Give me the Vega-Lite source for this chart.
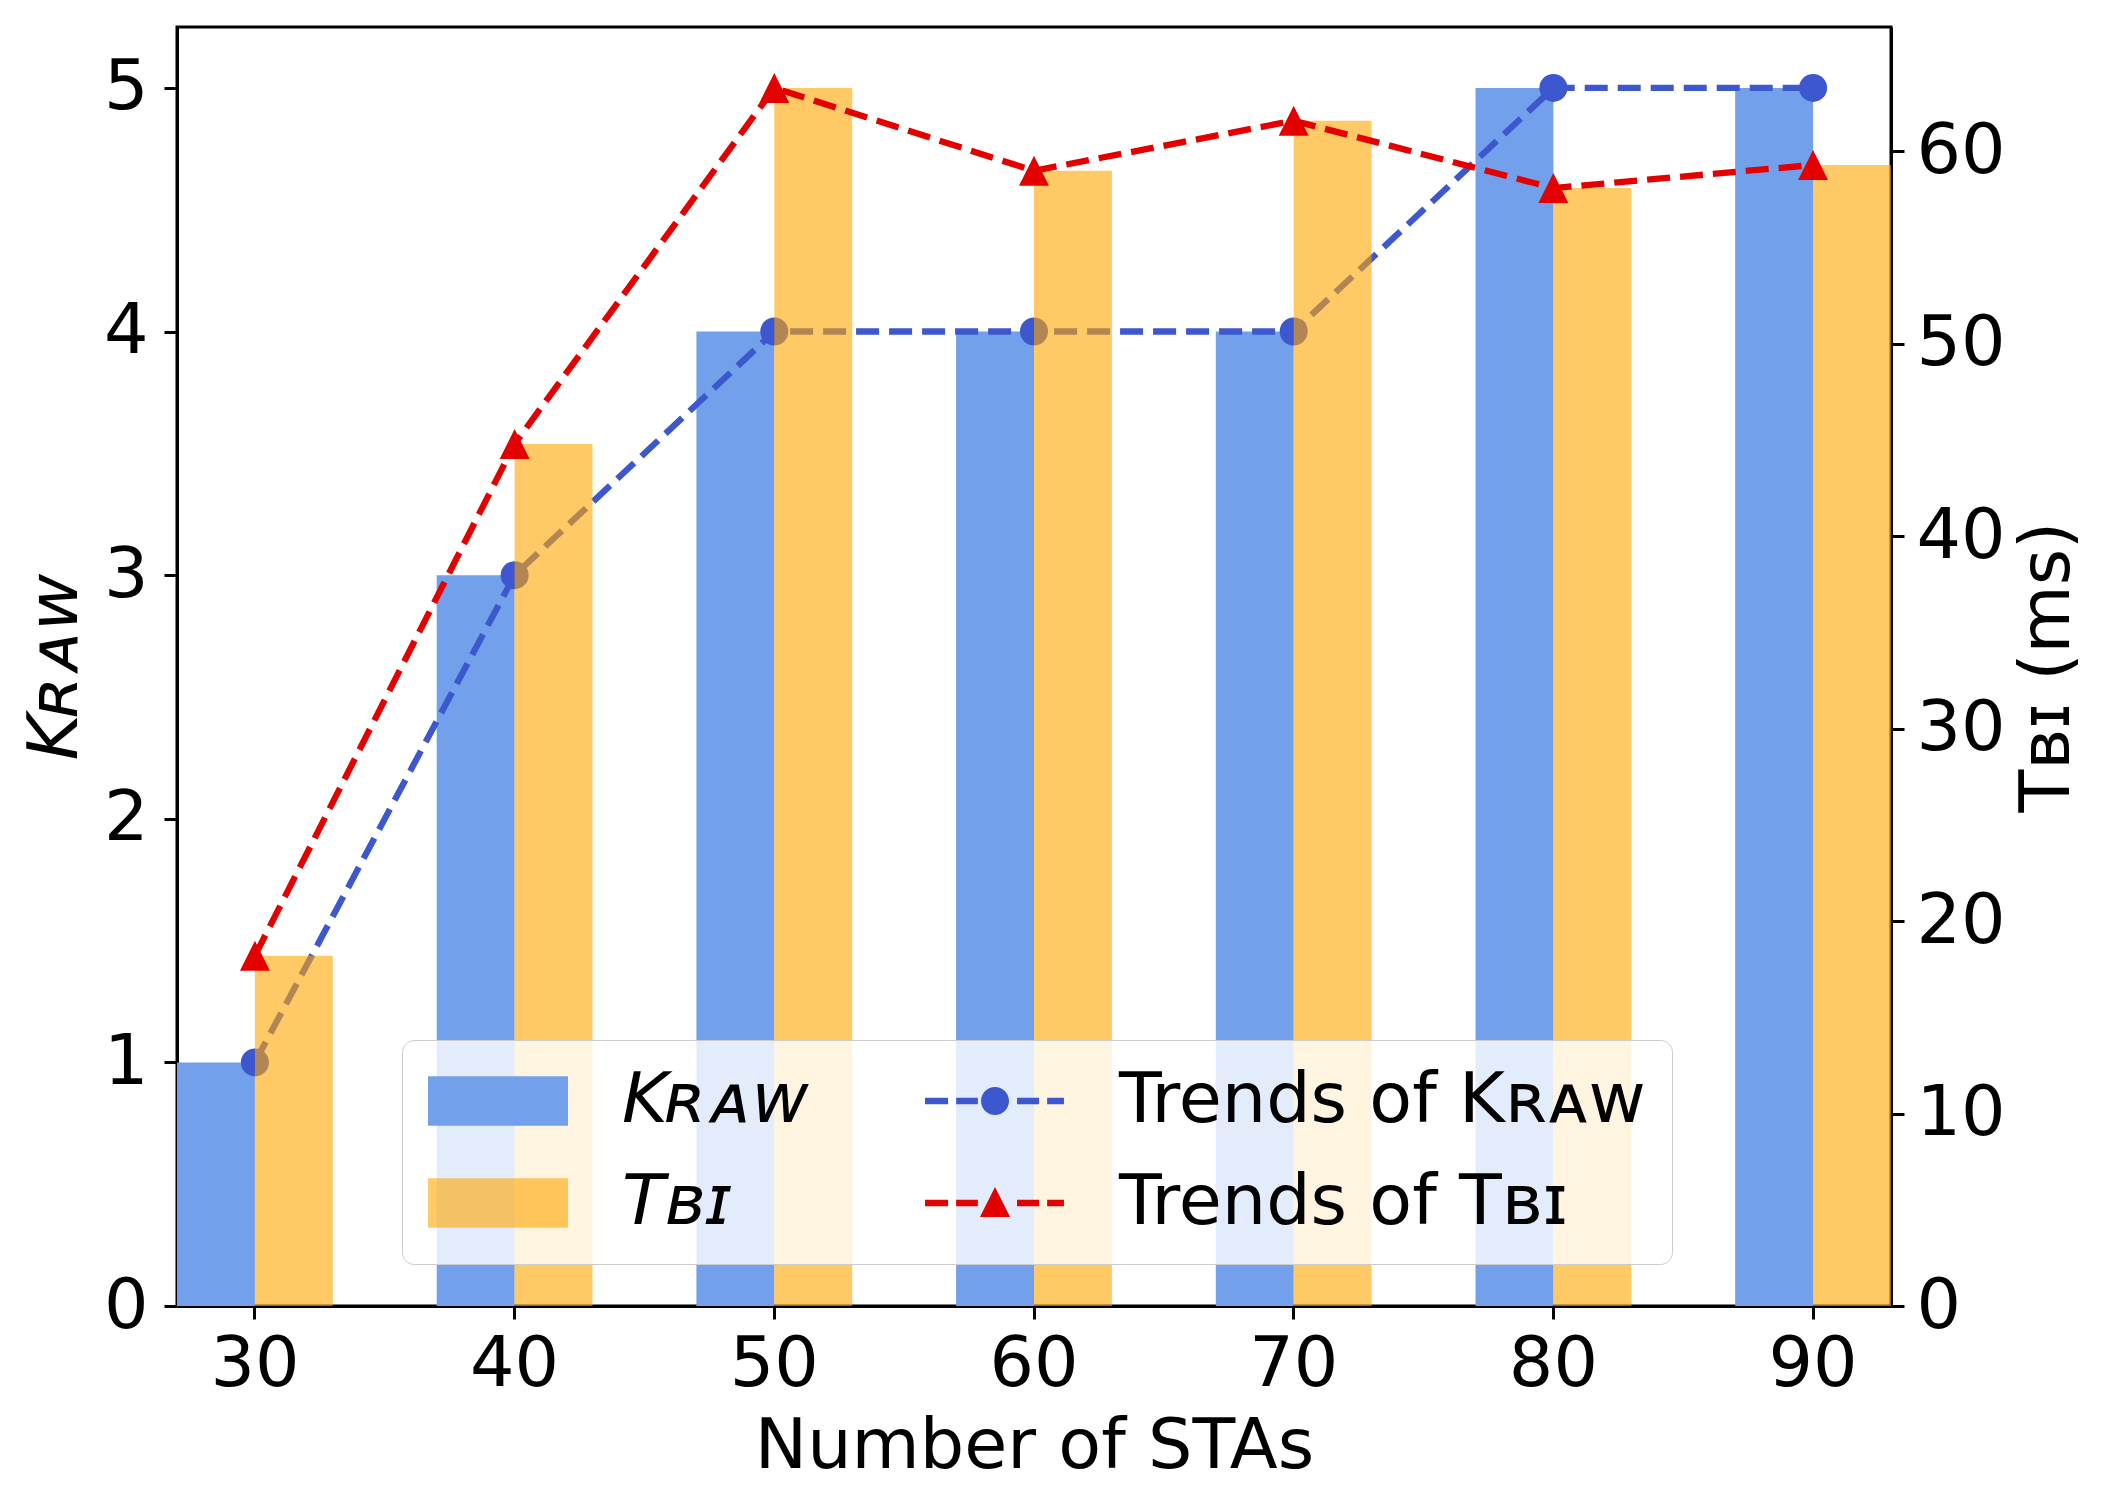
{
  "$schema": "https://vega.github.io/schema/vega-lite/v6.json",
  "width": 1714,
  "height": 1279,
  "autosize": {"type": "none"},
  "padding": {"left": 177, "top": 27, "right": 215, "bottom": 184},
  "background": "white",
  "config": {
    "font": "DejaVu Sans",
    "view": {"stroke": "black", "strokeWidth": 3},
    "axis": {
      "grid": false,
      "domainColor": "black",
      "domainWidth": 3,
      "tickColor": "black",
      "tickWidth": 3,
      "tickSize": 13,
      "labelColor": "black",
      "labelFontSize": 70,
      "labelFont": "DejaVu Sans",
      "titleFontSize": 70,
      "titleFont": "DejaVu Sans",
      "titleColor": "black",
      "titleFontWeight": "normal"
    },
    "legend": {
      "labelFont": "DejaVu Sans",
      "labelFontSize": 70,
      "labelColor": "black",
      "labelLimit": 0
    }
  },
  "data": {
    "values": [
      {"n": 30, "K": 1, "T": 18.2},
      {"n": 40, "K": 3, "T": 44.8},
      {"n": 50, "K": 4, "T": 63.3},
      {"n": 60, "K": 4, "T": 59.0},
      {"n": 70, "K": 4, "T": 61.6},
      {"n": 80, "K": 5, "T": 58.1},
      {"n": 90, "K": 5, "T": 59.3}
    ]
  },
  "encoding": {
    "x": {
      "field": "n",
      "type": "ordinal",
      "scale": {"paddingInner": 0.4, "paddingOuter": 0},
      "axis": {"title": "Number of STAs", "labelAngle": 0, "labelPadding": 11, "titlePadding": 13}
    }
  },
  "layer": [
    {
      "layer": [
        {
          "transform": [{"fold": ["K", "T"], "as": ["key", "val"]}, {"filter": "datum.key == 'K'"}],
          "mark": {"type": "bar"},
          "encoding": {
            "xOffset": {"field": "key", "type": "nominal", "scale": {"domain": ["K", "T"]}},
            "y": {
              "field": "val",
              "type": "quantitative",
              "scale": {"domain": [0, 5.25], "nice": false, "zero": true},
              "axis": {"orient": "left", "title": "Kʀᴀᴡ", "titleFontStyle": "italic", "values": [0, 1, 2, 3, 4, 5], "format": "d", "labelPadding": 16, "titlePadding": 12}
            },
            "color": {
              "datum": "Kʀᴀᴡ",
              "type": "nominal",
              "scale": {
                "domain": ["Kʀᴀᴡ", "Tʙɪ", "Trends of Kʀᴀᴡ", "Trends of Tʙɪ"],
                "range": ["#72a0ea", "rgba(255,165,0,0.6)", "#3d57ce", "#e50000"]
              },
              "legend": {
                "title": null,
                "orient": "none",
                "legendX": 225,
                "legendY": 1013,
                "columns": 2,
                "symbolSize": 4900,
                "symbolStrokeWidth": 0,
                "symbolOffset": 35,
                "symbolType": {"expr": "datum.value == 'Trends of Kʀᴀᴡ' ? 'M-2,-0.09H-1.34V0.09H-2Z M-1.11,-0.09H-0.49V0.09H-1.11Z M0.63,-0.09H1.26V0.09H0.63Z M1.49,-0.09H1.97V0.09H1.49Z M0.4,0A0.4,0.4,0,1,1,-0.4,0A0.4,0.4,0,1,1,0.4,0Z' : (datum.value == 'Trends of Tʙɪ' ? 'M-2,-0.09H-1.34V0.09H-2Z M-1.11,-0.09H-0.49V0.09H-1.11Z M0.63,-0.09H1.26V0.09H0.63Z M1.49,-0.09H1.97V0.09H1.49Z M0,-0.46L0.43,0.4L-0.43,0.4Z' : 'M-2,-0.71H2V0.71H-2Z')"},
                "labelFontStyle": {"expr": "indexof(datum.value, 'Trends') < 0 ? 'italic' : 'normal'"},
                "labelOffset": 89,
                "columnPadding": 116,
                "rowPadding": 32,
                "padding": 26,
                "fillColor": "rgba(255,255,255,0.8)",
                "strokeColor": "#cccccc",
                "cornerRadius": 12
              }
            }
          }
        },
        {
          "mark": {
            "type": "line",
            "strokeDash": [23, 10],
            "strokeWidth": 6.3,
            "point": {"filled": true, "size": 784, "shape": "circle", "opacity": 1}
          },
          "encoding": {
            "y": {"field": "K", "type": "quantitative"},
            "color": {"datum": "Trends of Kʀᴀᴡ", "type": "nominal"}
          }
        }
      ]
    },
    {
      "layer": [
        {
          "transform": [{"fold": ["K", "T"], "as": ["key", "val"]}, {"filter": "datum.key == 'T'"}],
          "mark": {"type": "bar"},
          "encoding": {
            "xOffset": {"field": "key", "type": "nominal", "scale": {"domain": ["K", "T"]}},
            "y": {
              "field": "val",
              "type": "quantitative",
              "scale": {"domain": [0, 66.47], "nice": false, "zero": true},
              "axis": {"orient": "right", "title": "Tʙɪ (ms)", "titleAngle": 270, "titleBaseline": "top", "values": [0, 10, 20, 30, 40, 50, 60], "labelPadding": 12, "titlePadding": 8}
            },
            "color": {"datum": "Tʙɪ", "type": "nominal"}
          }
        },
        {
          "mark": {
            "type": "line",
            "strokeDash": [23, 10],
            "strokeWidth": 6.3,
            "point": {"filled": true, "size": 900, "shape": "M0,-1L1,1L-1,1Z", "opacity": 1}
          },
          "encoding": {
            "y": {"field": "T", "type": "quantitative"},
            "color": {"datum": "Trends of Tʙɪ", "type": "nominal"}
          }
        }
      ]
    }
  ],
  "resolve": {"scale": {"y": "independent"}}
}
